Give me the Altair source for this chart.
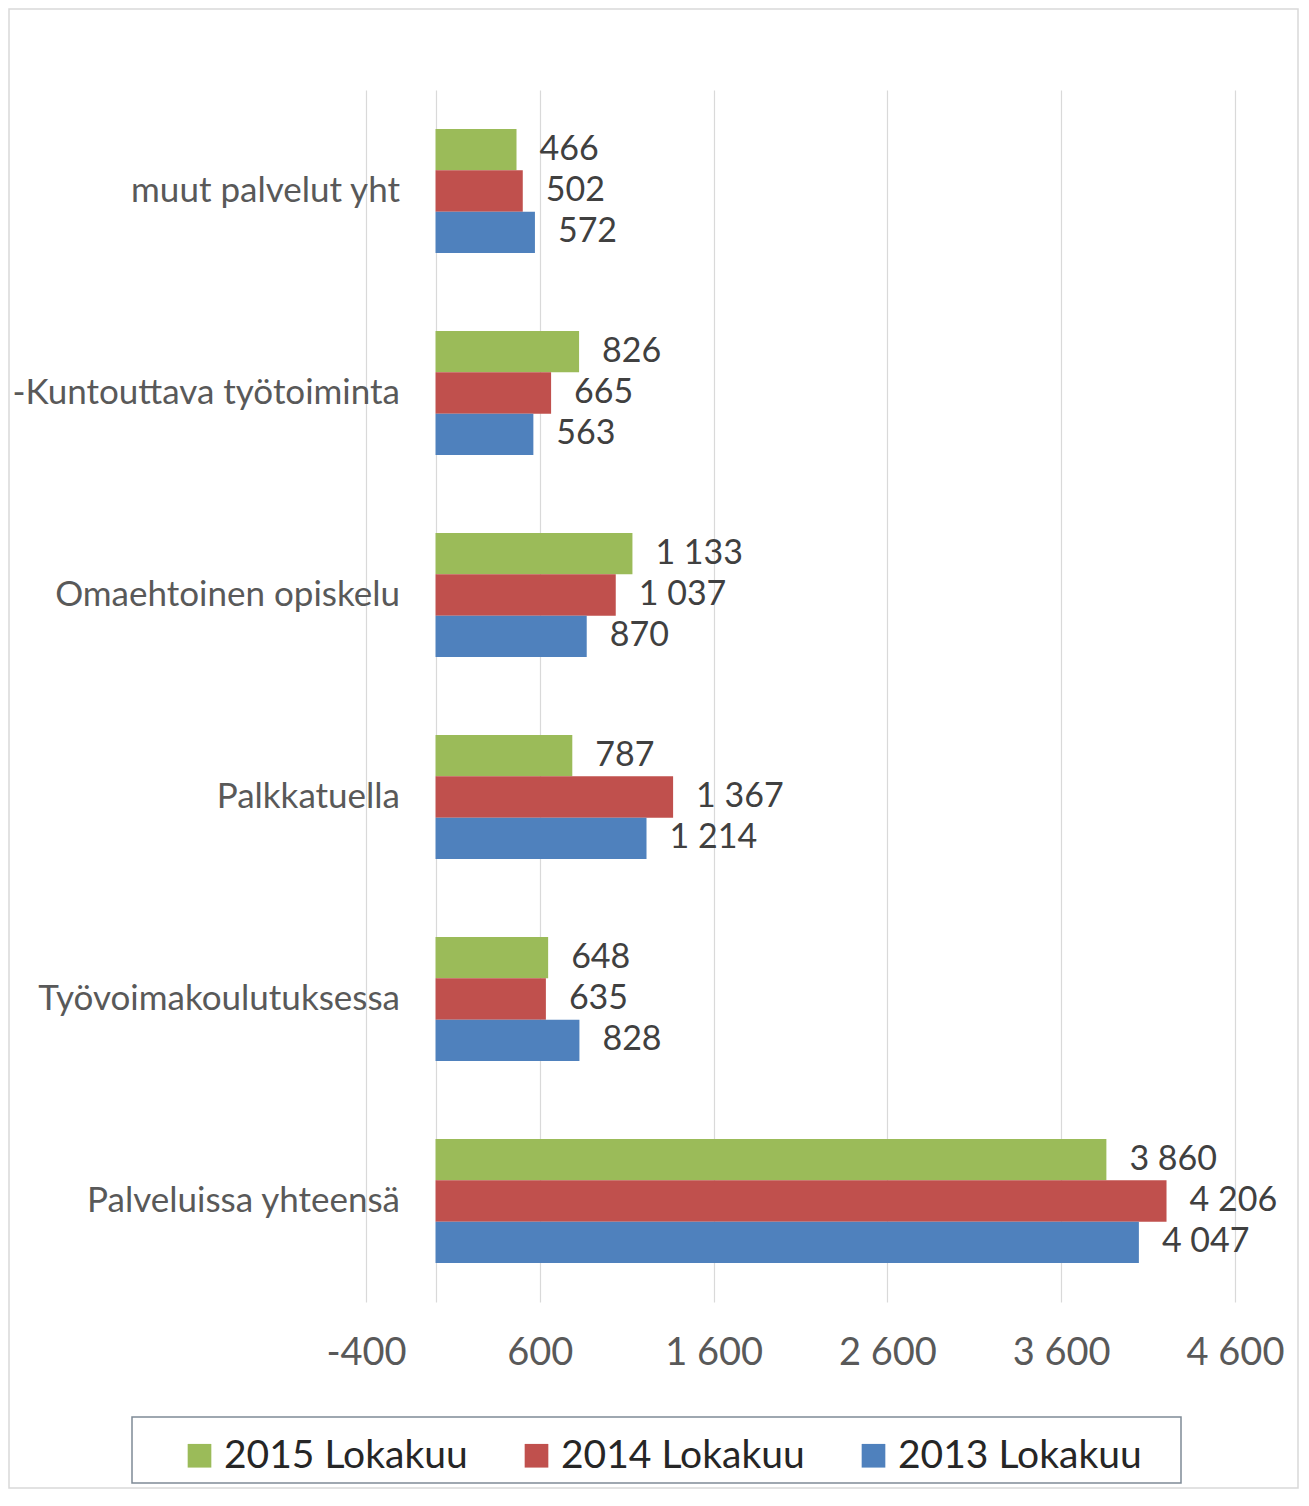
import altair as alt
import pandas as pd

categories = ["muut palvelut yht", "-Kuntouttava työtoiminta", "Omaehtoinen opiskelu",
              "Palkkatuella", "Työvoimakoulutuksessa", "Palveluissa yhteensä"]
series = ["2015 Lokakuu", "2014 Lokakuu", "2013 Lokakuu"]
v2015 = [466, 826, 1133, 787, 648, 3860]
v2014 = [502, 665, 1037, 1367, 635, 4206]
v2013 = [572, 563, 870, 1214, 828, 4047]
colors = ["#9BBB59", "#C0504D", "#4F81BD"]
tick_values = [-400, 0, 600, 1600, 2600, 3600, 4600]

rows = []
for s, vals in zip(series, [v2015, v2014, v2013]):
    for c, v in zip(categories, vals):
        rows.append({"category": c, "series": s, "value": v})
df = pd.DataFrame(rows)

FONT = "Lato"
W, H = 869, 1212

base = alt.Chart(df).transform_calculate(
    label="replace(format(datum.value, ','), ',', ' ')"
)

y_enc = alt.Y("category:N", sort=categories,
              scale=alt.Scale(paddingInner=0.385, paddingOuter=0.1925),
              axis=alt.Axis(title=None, offset=-69.5, labelPadding=36, ticks=False,
                            domain=False, labelFontSize=35, labelColor="#595959",
                            labelFont=FONT, labelLimit=500))
x_enc = alt.X("value:Q",
              scale=alt.Scale(domain=[-400, 4600], nice=False, zero=False),
              axis=alt.Axis(title=None, values=tick_values, grid=True, gridColor="#D9D9D9",
                            gridWidth=1.2, domain=False, ticks=False, labelPadding=32,
                            labelFlush=False, labelBound=False, labelOverlap=False,
                            labelFontSize=38, labelColor="#595959", labelFont=FONT,
                            labelExpr="datum.value == 0 ? '' : replace(replace(format(datum.value, ','), ',', ' '), '\u2212', '-')"))
yoff = alt.YOffset("series:N", sort=series)

bars = base.mark_bar().encode(
    x=x_enc,
    x2=alt.datum(0),
    y=y_enc,
    yOffset=yoff,
    color=alt.Color("series:N", sort=series,
                    scale=alt.Scale(domain=series, range=colors),
                    legend=alt.Legend(title=None, orient="none", direction="horizontal",
                                      legendX=-186, legendY=1346, symbolType="square",
                                      symbolSize=560, symbolStrokeWidth=0,
                                      labelFontSize=39, labelFont=FONT, labelColor="#262626",
                                      labelOffset=5, columnPadding=49, padding=0,
                                      labelLimit=400)),
)

labels = base.mark_text(align="left", baseline="middle", dx=23, fontSize=34,
                        font=FONT, color="#404040").encode(
    x="value:Q",
    y=alt.Y("category:N", sort=categories),
    yOffset=yoff,
    text="label:N",
)

frame = alt.Chart(alt.Data(values=[{}])).mark_rect(filled=False, stroke="#D9D9D9", strokeWidth=1.5).encode(
    x=alt.value(-357), x2=alt.value(932), y=alt.value(-81), y2=alt.value(1398)
)
legend_box = alt.Chart(alt.Data(values=[{}])).mark_rect(filled=False, stroke="#7F8A96", strokeWidth=1.5).encode(
    x=alt.value(-234), x2=alt.value(815), y=alt.value(1327), y2=alt.value(1393)
)

chart = alt.layer(frame, legend_box, bars, labels).properties(
    width=W, height=H, padding=0, background="white"
).configure_view(strokeOpacity=0)

chart.save("out.html", embed_options={"renderer": "svg", "actions": False})
